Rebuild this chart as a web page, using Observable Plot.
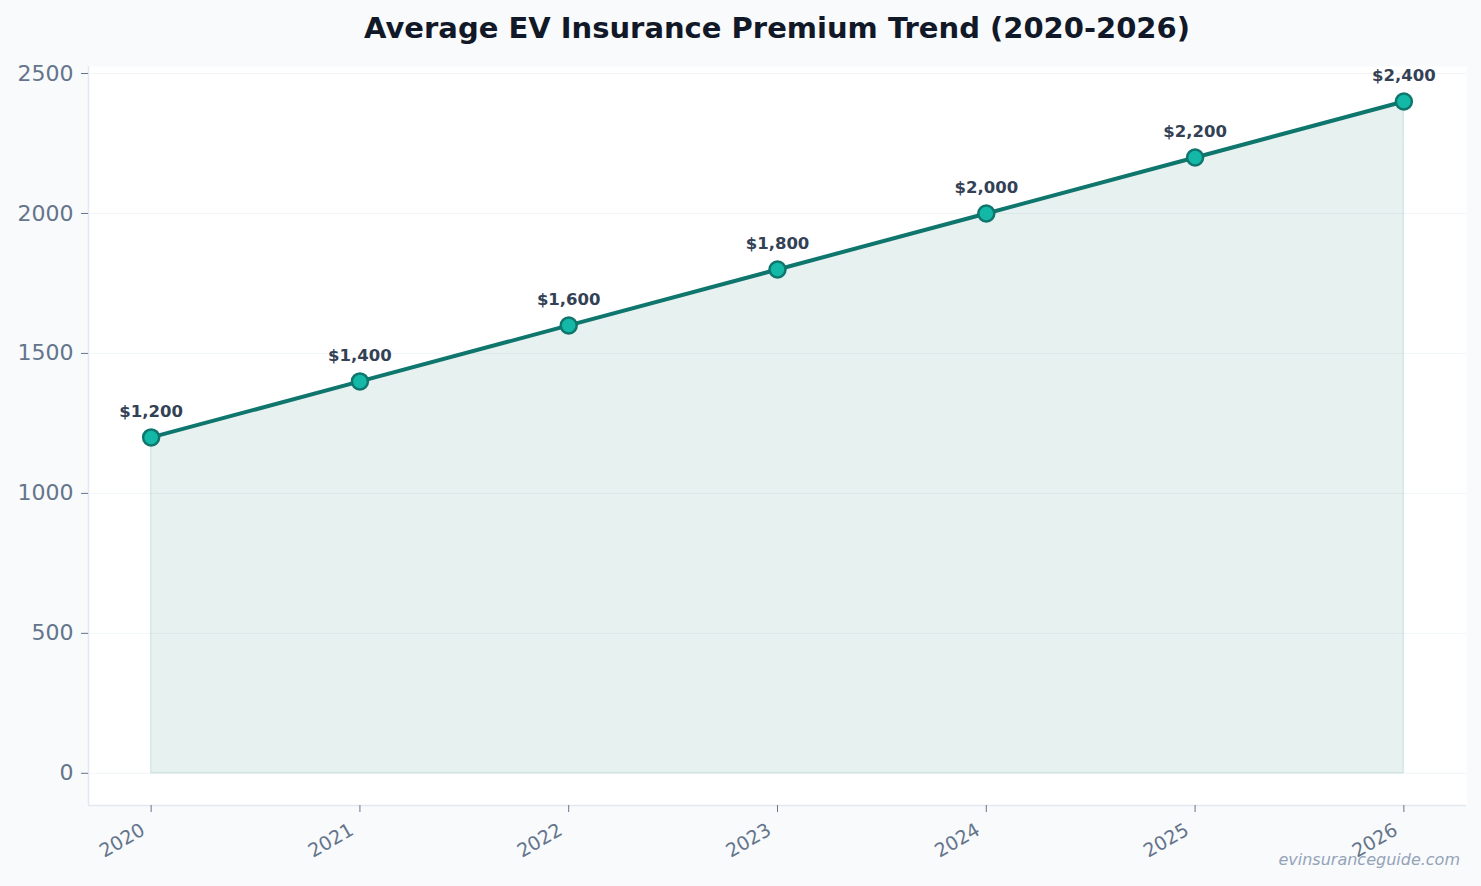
<!DOCTYPE html>
<html>
<head>
<meta charset="utf-8">
<script src="https://cdn.jsdelivr.net/npm/d3@7"></script>
<script src="https://cdn.jsdelivr.net/npm/@observablehq/plot@0.6"></script>
<style>
  html, body { margin: 0; padding: 0; background: #f8fafc; }
  #wrap { position: relative; width: 1481px; height: 886px; overflow: hidden; font-family: "DejaVu Sans", sans-serif; }
  #title {
    height: 56px; line-height: 56px; box-sizing: border-box;
    padding-left: 88px; padding-right: 15px; text-align: center;
    font-size: 29px; font-weight: bold; color: #111827;
  }
  #credit {
    position: absolute; right: 21px; top: 850px;
    font-size: 16px; font-style: italic; color: #94a3b8;
  }
  svg { display: block; }
</style>
</head>
<body>
<div id="wrap">
  <div id="title">Average EV Insurance Premium Trend (2020-2026)</div>
  <div id="chart"></div>
  <div id="credit">evinsuranceguide.com</div>
</div>
<script>
// Average annual EV insurance premium, USD
const years = [2020, 2021, 2022, 2023, 2024, 2025, 2026];
const premiums = [1200, 1400, 1600, 1800, 2000, 2200, 2400];
const yTicks = [0, 500, 1000, 1500, 2000, 2500];

const rows = years.map((year, i) => ({year, premium: premiums[i]}));
const money = d3.format("$,");

const teal = "#0f766e";
const xDomain = [2019.7, 2026.3];
const yDomain = [-115, 2525];

const chart = Plot.plot({
  width: 1481,
  height: 830,
  marginLeft: 88,
  marginRight: 15,
  marginTop: 10,
  marginBottom: 81,
  style: {background: "transparent", fontFamily: "DejaVu Sans, sans-serif"},
  x: {domain: xDomain},
  y: {domain: yDomain},
  marks: [
    Plot.frame({fill: "white", stroke: null}),
    Plot.gridY(yTicks, {stroke: "#e2e8f0", strokeOpacity: 0.45, strokeWidth: 1}),
    Plot.ruleX([xDomain[0]], {stroke: "#e2e8f0", strokeWidth: 1.5}),
    Plot.ruleY([yDomain[0]], {stroke: "#e2e8f0", strokeWidth: 1.5}),
    Plot.axisY(yTicks, {
      tickSize: 7, tickPadding: 8, fontSize: 22, color: "#64748b",
      tickFormat: d => String(d), label: null
    }),
    // x ticks, then the rotated year labels nudged left of their tick
    Plot.axisX(years, {tickSize: 7, color: "#64748b", tickFormat: () => "", label: null}),
    Plot.axisX(years, {
      tickSize: 0, tickPadding: 23, fontSize: 19, color: "#64748b",
      tickRotate: -30, dx: -8, tickFormat: d => String(d), label: null
    }),
    Plot.areaY(rows, {
      x: "year", y: "premium", fill: teal, fillOpacity: 0.1,
      stroke: teal, strokeOpacity: 0.12, strokeWidth: 1.5
    }),
    Plot.line(rows, {x: "year", y: "premium", stroke: teal, strokeWidth: 4}),
    Plot.dot(rows, {x: "year", y: "premium", r: 8, fill: "#14b8a6", stroke: teal, strokeWidth: 2.5}),
    Plot.text(rows, {
      x: "year", y: "premium", text: d => money(d.premium), dy: -26,
      fontSize: 16.5, fontWeight: "bold", fill: "#334155"
    })
  ]
});

document.getElementById("chart").appendChild(chart);
</script>
</body>
</html>
